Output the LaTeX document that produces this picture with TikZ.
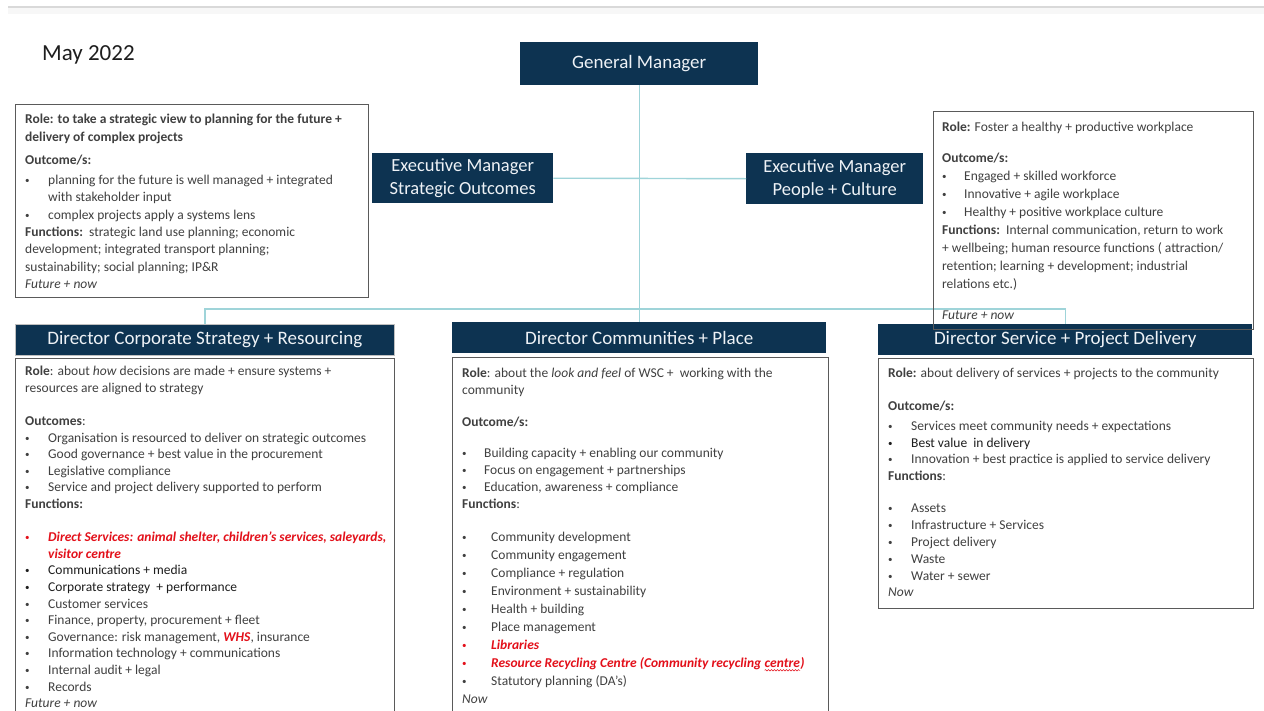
\documentclass[tikz,border=0pt]{standalone}
\usepackage{fontspec}
\setmainfont{Carlito}
\usetikzlibrary{decorations.pathmorphing}

\definecolor{navy}{HTML}{0D3351}
\definecolor{hdrtext}{HTML}{EEF2F6}
\definecolor{wire}{HTML}{9FD4D9}
\definecolor{framegray}{HTML}{5A5A5A}
\definecolor{bodygray}{HTML}{404040}
\definecolor{darktext}{HTML}{1E1E1E}
\definecolor{wsred}{HTML}{E3101A}
\definecolor{rulegray}{HTML}{D9D9D9}

% bullet item: small bullet, then text after a fixed indent
\newcommand\smallbullet{\raisebox{1pt}{\fontsize{9}{9}\selectfont\textbullet}}
\newcommand\bul[2][23pt]{\makebox[#1][l]{\smallbullet}#2}
\newcommand\redbi[1]{\textbf{\textit{#1}}}
% word with a wavy underline
\newcommand\wavyword[1]{\tikz[baseline=(ww.base), x=1pt, y=1pt]{%
  \node[inner sep=0pt, anchor=base] (ww) {#1};
  \draw[wsred, line width=0.5pt, decorate,
    decoration={snake, amplitude=0.7pt, segment length=3pt}]
    ([yshift=-2.6pt]ww.base west) -- ([yshift=-2.6pt]ww.base east);}}

\begin{document}
\begin{tikzpicture}[x=1pt,y=-1pt,
  hdr/.style={fill=navy, text=hdrtext, inner sep=0pt, anchor=north west,
    align=center, font=\fontsize{19}{23}\selectfont},
  exec/.style={hdr, font=\fontsize{18.5}{23}\selectfont},
  boxframe/.style={draw=framegray, line width=1.2pt, inner sep=0pt, anchor=north west},
  bodytext/.style={anchor=north west, inner sep=0pt, align=left, text=bodygray},
  wireline/.style={draw=wire, line width=1.4pt}]

\clip (0,0) rectangle (1264,710);
\fill[white] (0,0) rectangle (1264,710);

% page rule along the top
\fill[black!3] (8,8) rectangle (1264,14);
\draw[rulegray, line width=2pt] (8,7) -- (1264,7);

\node[anchor=base west, text=darktext, inner sep=0pt,
  font=\fontsize{23}{27}\selectfont] (date) at (42,60) {May 2022};

% ---------- frames of the text boxes ----------
\node[boxframe, minimum width=353pt, minimum height=193pt] (tlframe) at (15,104) {};
\node[boxframe, minimum width=379pt, minimum height=370pt] (csrframe) at (15,358) {};
\node[boxframe, minimum width=376pt, minimum height=370pt] (cpframe) at (452,357) {};
\node[boxframe, minimum width=375pt, minimum height=250pt] (spdframe) at (878,358) {};

% ---------- headers ----------
\node[hdr, minimum width=238pt, minimum height=43pt] (gm) at (520,42) {General Manager};
\node[exec, minimum width=181pt, minimum height=50pt] (eso) at (372,153)
  {Executive Manager\\Strategic Outcomes};
\node[exec, minimum width=177pt, minimum height=51pt] (epc) at (746,153)
  {Executive Manager\\People + Culture};

\node[hdr, minimum width=379pt, minimum height=31pt, draw=black!25, line width=0.6pt]
  (csrhead) at (15,324) {Director Corporate Strategy + Resourcing};
\node[hdr, minimum width=374pt, minimum height=31pt] (cphead) at (452,322)
  {Director Communities + Place};
\node[hdr, minimum width=374pt, minimum height=31pt] (spdhead) at (878,324)
  {Director Service + Project Delivery};

% ---------- connectors ----------
\coordinate (bus) at (638,309);
\draw[wireline] (gm.south) -- (cphead.north);
\draw[wireline] (eso.east) -- (epc.west);
\draw[wireline] (csrhead.north) |- (bus) -| (spdhead.north);

\node[boxframe, minimum width=320pt, minimum height=218pt] (trframe) at (933,111) {};

% ---------- box texts ----------
\node[bodytext, font=\fontsize{13.5}{17.4}\selectfont] (tltext) at (25,114) {%
\textbf{Role: to take a strategic view to planning for the future +}\\
\textbf{delivery of complex projects}\\[6pt]
\textbf{Outcome/s:}\\[2.5pt]
\bul{planning for the future is well managed + integrated}\\
\hspace*{23pt}with stakeholder input\\
\bul{complex projects apply a systems lens}\\
\textbf{Functions:}\ \ strategic land use planning; economic\\
development; integrated transport planning;\\
sustainability; social planning; IP\&R\\
\textit{Future + now}};

\node[bodytext, font=\fontsize{13.5}{18}\selectfont] (trtext) at (942,122) {%
\textbf{Role:} Foster a healthy + productive workplace\\[13pt]
\textbf{Outcome/s:}\\
\bul[22pt]{Engaged + skilled workforce}\\
\bul[22pt]{Innovative + agile workplace}\\
\bul[22pt]{Healthy + positive workplace culture}\\
\textbf{Functions:}\ \ Internal communication, return to work\\
+ wellbeing; human resource functions ( attraction/\\
retention; learning + development; industrial\\
relations etc.)\\[13pt]
\textit{Future + now}};

\node[bodytext, font=\fontsize{13.5}{16.6}\selectfont] (csrtext) at (25,366) {%
\textbf{Role}: about \textit{how} decisions are made + ensure systems +\\
resources are aligned to strategy\\[16.6pt]
\textbf{Outcomes}:\\
\bul{Organisation is resourced to deliver on strategic outcomes}\\
\bul{Good governance + best value in the procurement}\\
\bul{Legislative compliance}\\
\bul{Service and project delivery supported to perform}\\
\textbf{Functions:}\\[16.6pt]
\textcolor{wsred}{\bul{\redbi{Direct Services: animal shelter, children’s services, saleyards,}}}\\
\textcolor{wsred}{\hspace*{23pt}\redbi{visitor centre}}\\
\textcolor{darktext}{\bul{Communications + media}}\\
\textcolor{darktext}{\bul{Corporate strategy\ \ + performance}}\\
\bul{Customer services}\\
\bul{Finance, property, procurement + fleet}\\
\bul{Governance: risk management, \textcolor{wsred}{\redbi{WHS}}, insurance}\\
\bul{Information technology + communications}\\
\bul{Internal audit + legal}\\
\bul{Records}\\
\textit{Future + now}};

\node[bodytext, font=\fontsize{13.5}{17}\selectfont] (cptext) at (462,368) {%
\textbf{Role}: about the \textit{look and feel} of WSC +\ \ working with the\\
community\\[15pt]
\textbf{Outcome/s:}\\[14pt]
\bul[22pt]{Building capacity + enabling our community}\\
\bul[22pt]{Focus on engagement + partnerships}\\
\bul[22pt]{Education, awareness + compliance}\\
\textbf{Functions}:\\[16pt]
\bul[29pt]{Community development}\\[1pt]
\bul[29pt]{Community engagement}\\[1pt]
\bul[29pt]{Compliance + regulation}\\[1pt]
\bul[29pt]{Environment + sustainability}\\[1pt]
\bul[29pt]{Health + building}\\[1pt]
\bul[29pt]{Place management}\\[1pt]
\textcolor{wsred}{\bul[29pt]{\redbi{Libraries}}}\\[1pt]
\textcolor{wsred}{\bul[29pt]{\redbi{Resource Recycling Centre (Community recycling \wavyword{centre})}}}\\[1pt]
\bul[29pt]{Statutory planning (DA’s)}\\[1pt]
\textit{Now}};

\node[bodytext, font=\fontsize{13.5}{16.8}\selectfont] (spdtext) at (888,368) {%
\textbf{Role:} about delivery of services + projects to the community\\[16pt]
\textbf{Outcome/s:}\\[3pt]
\bul{Services meet community needs + expectations}\\
\textcolor{darktext}{\bul{Best value\ \ in delivery}}\\
\bul{Innovation + best practice is applied to service delivery}\\
\textbf{Functions}:\\[15.5pt]
\bul{Assets}\\
\bul{Infrastructure + Services}\\
\bul{Project delivery}\\
\bul{Waste}\\
\bul{Water + sewer}\\
\textit{Now}};

\end{tikzpicture}
\end{document}
